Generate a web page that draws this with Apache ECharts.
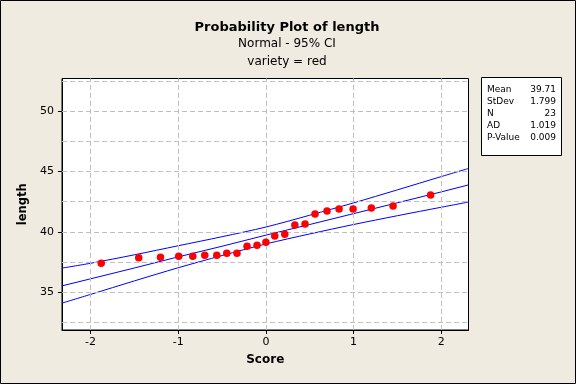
<!DOCTYPE html>
<html>
<head>
<meta charset="utf-8">
<script src="https://cdn.jsdelivr.net/npm/echarts@6/dist/echarts.min.js"></script>
<style>
html,body{margin:0;padding:0;background:#EFEBE0;}
#chart{width:576px;height:384px;}
</style>
</head>
<body>
<div id="chart"></div>
<script>
// Data
const scores = [-1.878,-1.450,-1.202,-0.994,-0.834,-0.697,-0.560,-0.446,-0.330,-0.215,-0.101,0.000,0.101,0.215,0.330,0.446,0.560,0.697,0.834,0.994,1.202,1.450,1.878];
const lengths = [37.41,37.85,37.90,37.99,37.99,38.07,38.07,38.24,38.24,38.82,38.90,39.15,39.65,39.81,40.56,40.65,41.48,41.73,41.89,41.89,41.97,42.14,43.05];
const bandScores = [-2.325,-2,-1.5,-1,-0.5,0,0.5,1,1.5,2,2.31];
const fitLine = [35.53,36.11,37.01,37.93,38.81,39.73,40.61,41.51,42.41,43.31,43.89];
const upperCI = [37.00,37.40,38.10,38.85,39.60,40.40,41.38,42.40,43.48,44.58,45.25];
const lowerCI = [34.10,34.82,35.94,37.03,38.04,39.00,39.83,40.61,41.34,42.04,42.47];
const xTicks = [-2,-1,0,1,2];
const yTicks = [35,40,45,50];
const xGrid = [-2,-1,0,1,2];
const yGrid = [32.5,35,37.5,40,42.5,45,47.5,50,52.5];
const statLabels = ['Mean','StDev','N','AD','P-Value'];
const statValues = ['39.71','1.799','23','1.019','0.009'];

const FONT = 'DejaVu Sans';
const pair = (xs, ys) => xs.map((x, i) => [x, ys[i]]);

const chart = echarts.init(document.getElementById('chart'), null, {renderer: 'canvas'});

const gridLineStyle = {color: '#C0C0C0', type: [5, 3], width: 1};
const markData = yGrid.map(v => ({yAxis: v})).concat(xGrid.map(v => ({xAxis: v})));

const statGraphics = [];
statLabels.forEach((s, i) => {
  const y = 90 + i * 11.8;
  statGraphics.push({type: 'text', x: 487, y: y, style: {text: s, font: '9px "' + FONT + '"', fill: '#000', align: 'left', verticalAlign: 'middle'}});
  statGraphics.push({type: 'text', x: 556, y: y, style: {text: statValues[i], font: '9px "' + FONT + '"', fill: '#000', align: 'right', verticalAlign: 'middle'}});
});

const option = {
  backgroundColor: '#EFEBE0',
  animation: false,
  grid: {left: 62, right: 107.5, top: 78.5, bottom: 54, show: true, backgroundColor: '#FFFFFF', borderColor: '#000', borderWidth: 1},
  xAxis: {
    type: 'value', min: -2.325, max: 2.31,
    name: 'Score', nameLocation: 'middle', nameGap: 24,
    nameTextStyle: {fontFamily: FONT, fontWeight: 'bold', fontSize: 12, color: '#000'},
    axisLine: {show: true, onZero: false, lineStyle: {color: '#000'}},
    axisTick: {show: true, length: 4, lineStyle: {color: '#000'}, customValues: xTicks},
    axisLabel: {fontFamily: FONT, fontSize: 11, color: '#000', margin: 7, customValues: xTicks},
    splitLine: {show: false}
  },
  yAxis: {
    type: 'value', min: 31.875, max: 52.7,
    name: 'length', nameLocation: 'middle', nameGap: 28,
    nameTextStyle: {fontFamily: FONT, fontWeight: 'bold', fontSize: 11.5, color: '#000'},
    axisLine: {show: true, onZero: false, lineStyle: {color: '#000'}},
    axisTick: {show: true, length: 4, lineStyle: {color: '#000'}, customValues: yTicks},
    axisLabel: {fontFamily: FONT, fontSize: 11, color: '#000', margin: 8, customValues: yTicks},
    splitLine: {show: false}
  },
  graphic: [
    {type: 'rect', shape: {x: 0.5, y: 0.5, width: 575, height: 383}, style: {fill: 'none', stroke: '#000', lineWidth: 1}, z: 100},
    {type: 'text', x: 287, y: 28, style: {text: 'Probability Plot of length', font: 'bold 13px "' + FONT + '"', fill: '#000', align: 'center', verticalAlign: 'middle'}},
    {type: 'text', x: 287, y: 44, style: {text: 'Normal - 95% CI', font: '12px "' + FONT + '"', fill: '#000', align: 'center', verticalAlign: 'middle'}},
    {type: 'text', x: 287, y: 62, style: {text: 'variety = red', font: '12px "' + FONT + '"', fill: '#000', align: 'center', verticalAlign: 'middle'}},
    {type: 'rect', shape: {x: 481.5, y: 77.5, width: 80, height: 78}, style: {fill: '#FFFFFF', stroke: '#000', lineWidth: 1}}
  ].concat(statGraphics),
  series: [
    {type: 'line', data: [], z: 1, silent: true,
     markLine: {silent: true, symbol: ['none', 'none'], label: {show: false}, lineStyle: gridLineStyle, animation: false, data: markData}},
    {type: 'line', data: pair(bandScores, upperCI), smooth: 0.3, symbol: 'none', lineStyle: {color: '#0000FF', width: 1}, z: 3},
    {type: 'line', data: pair(bandScores, fitLine), symbol: 'none', lineStyle: {color: '#0000FF', width: 1}, z: 3},
    {type: 'line', data: pair(bandScores, lowerCI), smooth: 0.3, symbol: 'none', lineStyle: {color: '#0000FF', width: 1}, z: 3},
    {type: 'scatter', data: pair(scores, lengths), symbol: 'circle', symbolSize: 7.5, itemStyle: {color: '#FF0000', opacity: 1}, z: 5}
  ]
};
chart.setOption(option);
</script>
</body>
</html>
